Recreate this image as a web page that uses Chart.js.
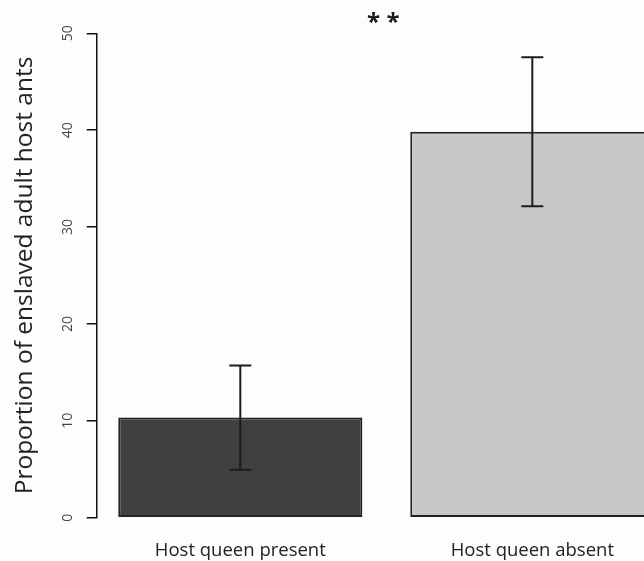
<!DOCTYPE html>
<html>
<head>
<meta charset="utf-8">
<script src="https://cdn.jsdelivr.net/npm/chart.js@4/dist/chart.umd.min.js"></script>
<style>
  html, body { margin: 0; padding: 0; background: #fdfdfb; overflow: hidden; }
  #wrap { width: 644px; height: 561px; position: relative; }
</style>
</head>
<body>
<div id="wrap"><canvas id="c"></canvas></div>
<script>
const categories = ["Host queen present", "Host queen absent"];
const means = [10.34, 39.83];
const stdErrors = [5.38, 7.69];
const barColors = ["#404040", "#c8c8c8"];
const yTicks = [0, 10, 20, 30, 40, 50];
const yTitle = "Proportion of enslaved adult host ants";
const significance = "* *";

const bgPlugin = {
  id: 'bg',
  beforeDraw(chart) {
    const ctx = chart.ctx;
    ctx.save();
    ctx.fillStyle = '#fdfdfb';
    ctx.fillRect(0, 0, chart.width, chart.height);
    ctx.restore();
  }
};

const errorBarPlugin = {
  id: 'errorBars',
  afterDatasetsDraw(chart) {
    const ctx = chart.ctx;
    const xs = chart.scales.x, ys = chart.scales.y;
    ctx.save();
    ctx.beginPath();
    ctx.rect(chart.chartArea.left, 0, chart.chartArea.right - chart.chartArea.left, chart.height);
    ctx.clip();
    ctx.strokeStyle = '#1c1c1c';
    ctx.lineWidth = 2;
    means.forEach((m, i) => {
      const x = xs.getPixelForValue(i);
      const yHi = ys.getPixelForValue(m + stdErrors[i]);
      const yLo = ys.getPixelForValue(m - stdErrors[i]);
      const cap = 11;
      ctx.beginPath();
      ctx.moveTo(x, yHi); ctx.lineTo(x, yLo);
      ctx.moveTo(x - cap, yHi); ctx.lineTo(x + cap, yHi);
      ctx.moveTo(x - cap, yLo); ctx.lineTo(x + cap, yLo);
      ctx.stroke();
    });
    ctx.restore();
  }
};

const sigPlugin = {
  id: 'sig',
  afterDraw(chart) {
    const ctx = chart.ctx;
    const xs = chart.scales.x;
    const x = (xs.getPixelForValue(0) + xs.getPixelForValue(1)) / 2;
    ctx.save();
    ctx.fillStyle = '#1a1a1a';
    ctx.font = 'bold 24px "Open Sans"';
    ctx.textAlign = 'center';
    ctx.textBaseline = 'middle';
    ctx.fillText(significance, x - 3, 23);
    ctx.restore();
  }
};

new Chart(document.getElementById('c'), {
  type: 'bar',
  data: {
    labels: categories,
    datasets: [{
      data: means.map((v, i) => ({ x: i, y: v })),
      backgroundColor: barColors,
      borderColor: '#222222',
      borderWidth: 2,
      borderSkipped: false,
      barPercentage: 0.836,
      categoryPercentage: 1.0
    }]
  },
  options: {
    responsive: true,
    maintainAspectRatio: false,
    animation: false,
    layout: { padding: { top: 33.3, left: 0, right: 0, bottom: 0 } },
    plugins: { legend: { display: false }, tooltip: { enabled: false }, title: { display: false } },
    scales: {
      x: {
        type: 'linear',
        min: -0.4918,
        max: 1.3825,
        offset: false,
        grid: { display: false, drawTicks: false },
        border: { display: false },
        ticks: {
          stepSize: 1,
          includeBounds: false,
          autoSkip: false,
          maxRotation: 0,
          minRotation: 0,
          padding: 22,
          color: '#222222',
          font: { family: '"Open Sans"', size: 18.5 },
          callback: (v) => (Number.isInteger(v) && categories[v] !== undefined) ? categories[v] : ''
        },
        afterFit(scale) { scale.height = 43.3; }
      },
      y: {
        min: 0,
        max: 50,
        afterBuildTicks(scale) { scale.ticks = yTicks.map(v => ({ value: v })); },
        grid: { drawOnChartArea: false, drawTicks: true, tickLength: 10, color: '#111111', lineWidth: 1.5 },
        border: { display: true, color: '#111111', width: 1.5 },
        ticks: {
          minRotation: 90,
          maxRotation: 90,
          crossAlign: 'center',
          padding: 11,
          color: '#444444',
          font: { family: '"Open Sans"', size: 14 }
        },
        title: {
          display: true,
          text: yTitle,
          color: '#222222',
          font: { family: '"Open Sans"', size: 24.5 },
          padding: { top: 10, bottom: 0 }
        },
        afterFit(scale) { scale.width = 96.7; }
      }
    }
  },
  plugins: [bgPlugin, errorBarPlugin, sigPlugin]
});
</script>
</body>
</html>
